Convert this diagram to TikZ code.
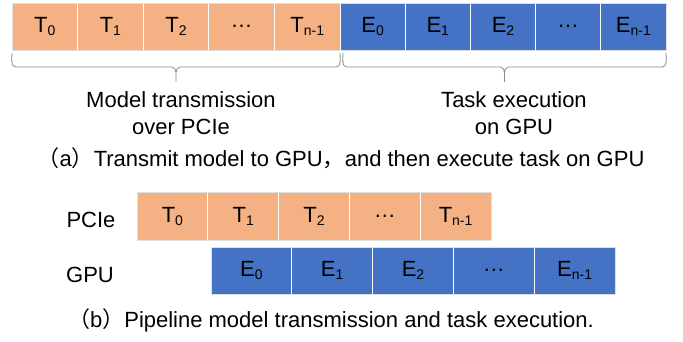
\documentclass[tikz,border=0pt]{standalone}
\usepackage{fontspec}
\setmainfont{Liberation Sans}
\newfontfamily\cjk{Noto Sans CJK SC}
\usetikzlibrary{positioning}
\definecolor{tcolor}{HTML}{F4B183}
\definecolor{ecolor}{HTML}{4472C4}
\definecolor{bracecolor}{HTML}{8C8C8C}
\newcommand{\idx}[2]{#1\raisebox{-3pt}{\fontsize{14}{14}\selectfont #2}}

\begin{document}
\begin{tikzpicture}[x=1pt,y=1pt,node distance=0pt and 0pt,
 every node/.style={font=\fontsize{22}{27}\selectfont,align=center,inner sep=0pt},
 cell/.style={draw=white,line width=1pt,outer sep=0pt,minimum height=47pt},
 tcell/.style={cell,fill=tcolor,minimum width=65.6pt},
 ecell/.style={cell,fill=ecolor,minimum width=65.2pt},
 pcell/.style={cell,fill=tcolor,minimum width=70.8pt,minimum height=48pt},
 gcell/.style={cell,fill=ecolor,minimum width=80.8pt},
 frame/.style={draw=black!12,line width=0.8pt},
 bracket/.style={draw=bracecolor,line width=0.8pt}]
\useasboundingbox (0,0) rectangle (683,341);
% (a) transmit first, then execute
\node[tcell] (t0) at (44.8,314.5) {\idx{T}{0}};
\node[tcell,right=of t0] (t1) {\idx{T}{1}};
\node[tcell,right=of t1] (t2) {\idx{T}{2}};
\node[tcell,right=of t2] (t3) {…};
\node[tcell,right=of t3] (t4) {\idx{T}{n-1}};
\node[ecell,right=of t4] (e0) {\idx{E}{0}};
\node[ecell,right=of e0] (e1) {\idx{E}{1}};
\node[ecell,right=of e1] (e2) {\idx{E}{2}};
\node[ecell,right=of e2] (e3) {…};
\node[ecell,right=of e3] (e4) {\idx{E}{n-1}};
\draw[frame] (t0.south west) rectangle (e4.north east);
\draw[bracket] (12,288) to[out=-90,in=180] (16,274) -- (172,274)
  to[out=0,in=90] (176,268) -- (176,259) -- (176,268)
  to[out=90,in=180] (180,274) -- (336,274) to[out=0,in=-90] (340,288);
\draw[bracket] (343,288) to[out=-90,in=180] (347,274) -- (500.5,274)
  to[out=0,in=90] (504.5,268) -- (504.5,259) -- (504.5,268)
  to[out=90,in=180] (508.5,274) -- (662,274) to[out=0,in=-90] (666,288);
\node (movetext) at (181,227.5) {Model transmission\\over PCIe};
\node (runtext) at (514,227.5) {Task execution\\on GPU};
\node[anchor=base] (capa) at (341,175)
  {{\cjk （}a{\cjk ）}Transmit model to GPU{\cjk ，}and then execute task on GPU};
% (b) pipelined
\node[pcell] (p0) at (172.4,125) {\idx{T}{0}};
\node[pcell,right=of p0] (p1) {\idx{T}{1}};
\node[pcell,right=of p1] (p2) {\idx{T}{2}};
\node[pcell,right=of p2] (p3) {…};
\node[pcell,right=of p3] (p4) {\idx{T}{n-1}};
\node[gcell] (g0) at (251.4,70.5) {\idx{E}{0}};
\node[gcell,right=of g0] (g1) {\idx{E}{1}};
\node[gcell,right=of g1] (g2) {\idx{E}{2}};
\node[gcell,right=of g2] (g3) {…};
\node[gcell,right=of g3] (g4) {\idx{E}{n-1}};
\draw[frame] (p0.south west) rectangle (p4.north east);
\draw[frame] (g0.south west) rectangle (g4.north east);
\node (pcie) at (91,121) {PCIe};
\node (gpu) at (90,66) {GPU};
\node[anchor=base] (capb) at (331,14)
  {{\cjk （}b{\cjk ）}Pipeline model transmission and task execution.};
\end{tikzpicture}
\end{document}
